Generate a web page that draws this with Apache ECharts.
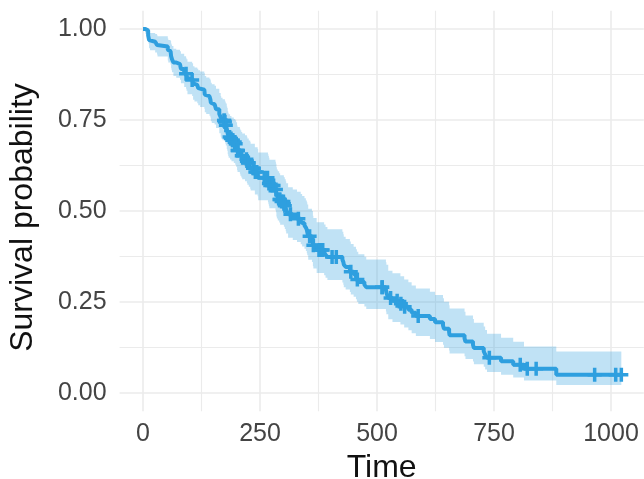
<!DOCTYPE html>
<html>
<head>
<meta charset="utf-8">
<script src="https://cdn.jsdelivr.net/npm/echarts@6/dist/echarts.min.js"></script>
<style>html,body{margin:0;padding:0;background:#fff}#c{width:644px;height:479px}</style>
</head>
<body>
<div id="c"></div>
<script>
// Event times and Kaplan–Meier estimates with 95% CI
const eventTimes = [5,11,12,13,15,26,30,31,53,54,59,60,61,62,65,71,79,81,88,92,93,95,105,107,110,116,118,122,131,132,135,142,144,145,147,153,156,163,166,167,170,175,176,177,179,180,181,182,183,186,189,194,197,199,201,202,207,208,210,212,218,222,223,226,229,230,239,245,246,267,268,269,270,283,284,285,286,288,291,293,301,303,305,306,310,320,329,337,340,345,348,350,351,353,361,363,364,371,387,390,394,426,428,429,433,442,444,450,455,457,460,473,477,519,520,524,533,550,558,567,574,583,613,624,641,643,654,655,687,689,705,707,728,731,735,765,791,814,883];
const survival = [.9956,.9825,.9781,.9693,.9649,.9605,.9561,.9518,.9430,.9386,.9342,.9254,.9211,.9167,.9079,.9035,.8991,.8904,.8816,.8772,.8728,.8640,.8596,.8507,.8463,.8418,.8374,.8330,.8285,.8197,.8153,.8108,.8064,.7975,.7931,.7887,.7798,.7665,.7577,.7532,.7488,.7443,.7398,.7353,.7262,.7217,.7126,.7081,.7035,.6989,.6943,.6897,.6850,.6803,.6708,.6661,.6613,.6565,.6517,.6469,.6421,.6372,.6323,.6273,.6223,.6172,.6070,.6018,.5915,.5862,.5809,.5756,.5703,.5648,.5593,.5483,.5427,.5372,.5317,.5260,.5202,.5144,.5085,.5026,.4908,.4848,.4788,.4727,.4667,.4606,.4545,.4485,.4424,.4303,.4241,.4118,.4057,.3932,.3867,.3801,.3736,.3668,.3600,.3532,.3464,.3396,.3328,.3259,.3190,.3121,.3050,.2979,.2908,.2834,.2759,.2610,.2533,.2454,.2372,.2288,.2203,.2118,.2030,.1942,.1854,.1765,.1677,.1589,.1501,.1412,.1324,.1236,.1148,.1059,.0971,.0874,.0777,.0666,.0500];
const lowerCI = [.9871,.9656,.9592,.9472,.9413,.9356,.9299,.9243,.9134,.9079,.9026,.8920,.8867,.8815,.8711,.8660,.8609,.8507,.8406,.8356,.8306,.8206,.8156,.8056,.8007,.7957,.7908,.7859,.7810,.7712,.7663,.7615,.7566,.7469,.7421,.7373,.7277,.7134,.7039,.6991,.6944,.6896,.6848,.6800,.6704,.6655,.6559,.6511,.6464,.6416,.6367,.6318,.6269,.6219,.6120,.6071,.6020,.5970,.5920,.5870,.5820,.5769,.5718,.5666,.5614,.5562,.5456,.5402,.5295,.5241,.5186,.5132,.5077,.5021,.4964,.4851,.4794,.4738,.4681,.4624,.4565,.4505,.4445,.4385,.4265,.4205,.4145,.4084,.4023,.3963,.3902,.3842,.3782,.3661,.3600,.3479,.3418,.3296,.3232,.3168,.3104,.3037,.2971,.2905,.2840,.2774,.2709,.2642,.2576,.2510,.2443,.2374,.2307,.2236,.2166,.2025,.1953,.1879,.1802,.1722,.1643,.1565,.1483,.1403,.1323,.1243,.1165,.1088,.1012,.0937,.0862,.0789,.0718,.0647,.0577,.0502,.0429,.0346,.0220];
const upperCI = [1,.999,.997,.992,.989,.986,.983,.980,.974,.970,.967,.960,.957,.953,.946,.943,.939,.932,.925,.921,.917,.910,.906,.898,.894,.891,.887,.883,.879,.871,.867,.863,.859,.852,.848,.844,.836,.824,.816,.811,.807,.803,.799,.795,.787,.783,.774,.770,.766,.761,.757,.753,.749,.744,.735,.731,.726,.722,.717,.713,.708,.704,.699,.694,.690,.685,.675,.670,.661,.656,.651,.646,.641,.635,.630,.620,.614,.609,.604,.598,.593,.587,.582,.576,.565,.559,.553,.547,.541,.535,.529,.524,.518,.506,.500,.487,.481,.469,.463,.456,.450,.443,.436,.429,.423,.416,.409,.402,.395,.388,.381,.374,.367,.359,.352,.336,.329,.321,.312,.304,.295,.287,.278,.269,.260,.251,.241,.232,.223,.213,.203,.193,.183,.173,.163,.152,.141,.128,.114];
const censorTimes = [92,105,173,174,175,177,185,188,191,192,196,198,202,203,211,221,222,224,225,225,235,237,240,243,259,266,269,272,276,279,284,292,292,296,300,301,303,315,332,356,364,376,382,384,404,413,444,458,511,511,529,543,551,559,588,740,806,821,840,965,1010,1022];
const xTicks = [0,250,500,750,1000];
const yTicks = [0,0.25,0.5,0.75,1];
const xLabel = 'Time';
const yLabel = 'Survival probability';

const COLOR = '#2E9FDF';
const endTime = Math.max(...censorTimes, ...eventTimes);
function stepValue(arr, t) {
  let v = 1;
  for (let i = 0; i < eventTimes.length; i++) { if (eventTimes[i] <= t) v = arr[i]; else break; }
  return v;
}
const lineData = [[0, 1]].concat(eventTimes.map((t, i) => [t, survival[i]]));
lineData.push([endTime, stepValue(survival, endTime)]);
// band rows: [time, lower, upper]
const bandRows = [[0, 1, 1]].concat(eventTimes.map((t, i) => [t, lowerCI[i], upperCI[i]]));
bandRows.push([endTime, stepValue(lowerCI, endTime), stepValue(upperCI, endTime)]);
const censorData = censorTimes.map(t => [t, stepValue(survival, t)]);

const FONT = 'Liberation Sans, Arial, Helvetica, sans-serif';
const plus = 'path://M4.5,0H7.5V4.5H12V7.5H7.5V12H4.5V7.5H0V4.5H4.5Z';
const X_MIN = -50, X_MAX = 1070;

function renderBand(params, api) {
  if (params.dataIndex !== 0) return null;
  const upper = [], lower = [];
  for (let i = 0; i < bandRows.length; i++) {
    const [t, lo, up] = bandRows[i];
    const tNext = i + 1 < bandRows.length ? bandRows[i + 1][0] : t;
    upper.push(api.coord([t, up]), api.coord([tNext, up]));
    lower.push(api.coord([t, lo]), api.coord([tNext, lo]));
  }
  const pts = upper.concat(lower.reverse());
  return {type: 'polygon', shape: {points: pts}, style: {fill: 'rgba(46,159,223,0.3)'}, silent: true};
}

const chart = echarts.init(document.getElementById('c'), null, {renderer: 'canvas'});
chart.setOption({
  animation: false,
  backgroundColor: '#fff',
  grid: [
    {left: 143, right: 33, top: 10.8, bottom: 67.8, outerBoundsMode: 'none', containLabel: false},
    {left: 119.6, right: 0.2, top: 29.0, bottom: 86.0, outerBoundsMode: 'none', containLabel: false},
    {left: 119.6, right: 0.2, top: 10.8, bottom: 67.8, outerBoundsMode: 'none', containLabel: false}
  ],
  xAxis: [
    {gridIndex: 0, type: 'value', min: 0, max: 1000, interval: 250,
      axisLine: {show: false, onZero: false}, axisTick: {show: false},
      axisLabel: {show: true, margin: 10, fontSize: 25, color: '#444', fontFamily: FONT,
        customValues: xTicks, formatter: v => String(v)},
      splitLine: {show: true, lineStyle: {color: '#ebebeb', width: 1.6}},
      minorTick: {show: false, splitNumber: 2},
      minorSplitLine: {show: true, lineStyle: {color: '#ebebeb', width: 1.1}}},
    {gridIndex: 1, type: 'value', min: 0, max: 1, show: false},
    {gridIndex: 2, type: 'value', min: X_MIN, max: X_MAX, show: false}
  ],
  yAxis: [
    {gridIndex: 0, type: 'value', min: 0, max: 1, show: false},
    {gridIndex: 1, type: 'value', min: 0, max: 1, interval: 0.25,
      axisLine: {show: false, onZero: false}, axisTick: {show: false},
      axisLabel: {show: true, margin: 13, fontSize: 25, color: '#444', fontFamily: FONT,
        customValues: yTicks, formatter: v => v.toFixed(2)},
      splitLine: {show: true, lineStyle: {color: '#ebebeb', width: 1.6}},
      minorTick: {show: false, splitNumber: 2},
      minorSplitLine: {show: true, lineStyle: {color: '#ebebeb', width: 1.1}}},
    {gridIndex: 2, type: 'value', min: -0.05, max: 1.05, show: true,
      axisLine: {show: false, onZero: false}, axisTick: {show: false}, axisLabel: {show: false}, splitLine: {show: false},
      name: yLabel, nameLocation: 'middle', nameGap: 80, nameRotate: 90, nameMoveOverlap: false,
      nameTextStyle: {fontSize: 32, color: '#111', fontFamily: FONT, padding: [0, 13, 0, 0]}}
  ],
  series: [
    {type: 'custom', xAxisIndex: 2, yAxisIndex: 2, data: bandRows, renderItem: renderBand,
      encode: {x: 0, y: [1, 2]}, silent: true, z: 2, clip: true},
    {type: 'line', xAxisIndex: 2, yAxisIndex: 2, data: lineData, step: 'end', symbol: 'none',
      lineStyle: {color: COLOR, width: 4}, silent: true, z: 3},
    {type: 'scatter', xAxisIndex: 2, yAxisIndex: 2, data: censorData, symbol: plus, symbolSize: 14,
      itemStyle: {color: COLOR, opacity: 1}, silent: true, z: 4}
  ]
});
// x-axis title centred under the panel
const xMid = chart.convertToPixel({xAxisIndex: 2}, (X_MIN + X_MAX) / 2);
chart.setOption({
  graphic: [{type: 'text', x: xMid, y: 468, silent: true,
    style: {text: xLabel, fontSize: 32, fontFamily: FONT, fill: '#111', align: 'center', verticalAlign: 'middle'}}]
});
</script>
</body>
</html>
